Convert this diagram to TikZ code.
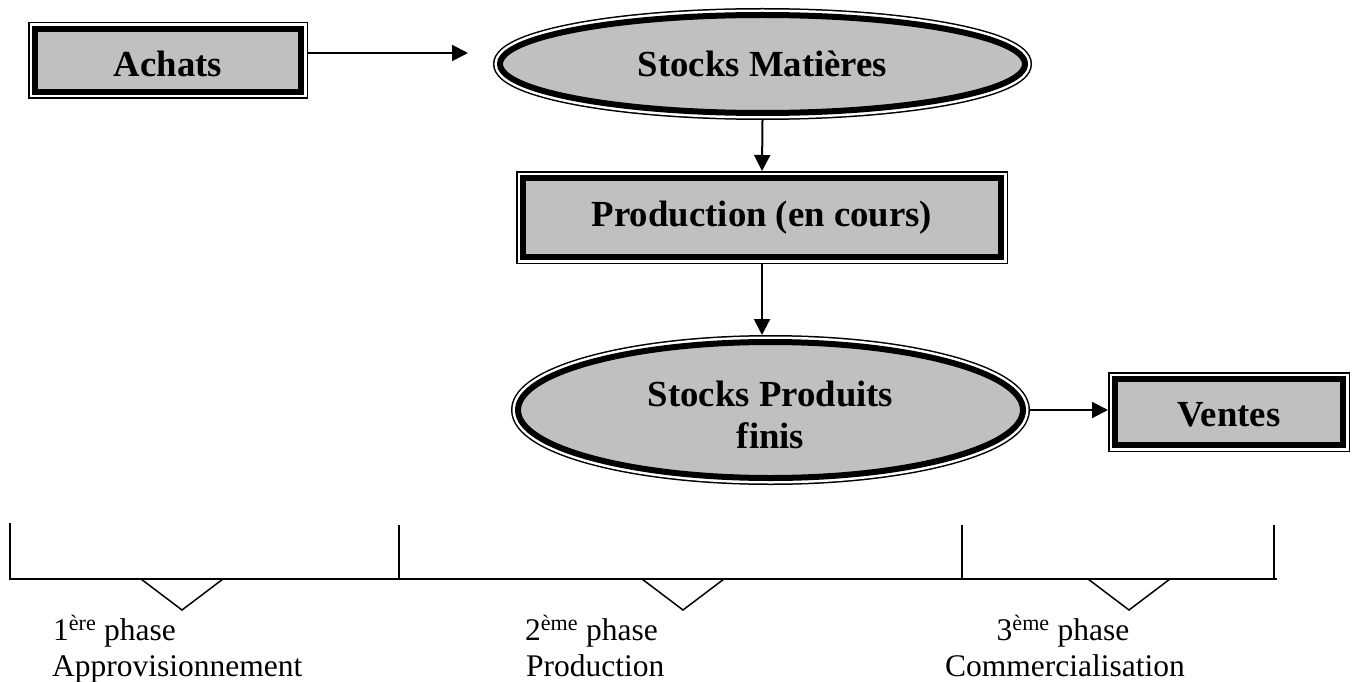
\documentclass[tikz,border=0pt]{standalone}
\usepackage{fontspec}
\setmainfont{Liberation Serif}
\usetikzlibrary{shapes.geometric,arrows.meta}
\definecolor{boxgray}{HTML}{C0C0C0}
\tikzset{
	flowbox/.style={draw=black, line width=6pt, fill=boxgray, outer sep=7pt, inner sep=0pt,
		preaction={draw=black, line width=14pt}, preaction={draw=white, line width=11pt},
		font=\fontsize{36.75}{42}\selectfont\bfseries, align=center},
	stockbox/.style={flowbox, ellipse},
	flow/.style={line width=2pt, -{Triangle[length=16pt,width=16pt]}},
	phase/.style={font=\fontsize{31.5}{36}\selectfont, inner sep=0pt}
}
\begin{document}
\begin{tikzpicture}[x=1pt, y=-1pt]
	\useasboundingbox (0,0) rectangle (1354,682);
	% boxes
	\node[flowbox, minimum width=266pt, minimum height=63pt, text height=33pt] (achats) at (168,60.5) {Achats};
	\node[stockbox, minimum width=525pt, minimum height=98pt] (stockM) at (762.5,64) {Stocks Matières};
	\node[flowbox, minimum width=478pt, minimum height=79pt] (prod) at (762,217.5) {Production (en cours)};
	\node[stockbox, minimum width=505pt, minimum height=136pt, text height=78pt] (stockP) at (770.5,410) {Stocks Produits\\finis};
	\node[flowbox, minimum width=228pt, minimum height=66pt, text height=30pt] (ventes) at (1229,412) {Ventes};
	% arrows
	\coordinate (achatsTip) at (468,53);
	\draw[flow] (achatsTip -| achats.east) -- (achatsTip);
	\draw[flow] (stockM.south) -- (prod.north);
	\draw[flow] (prod.south) -- (prod.south |- stockP.north);
	\draw[flow] (stockP.east) -- (stockP.east -| ventes.west);
	% phases
	\draw[line width=2pt] (10,523) -- (10,579) -- (1277,579);
	\foreach \x in {399,962,1274}
		\draw[line width=2pt] (\x,525) -- (\x,579);
	\foreach \c in {182,683,1129}
		\draw[line width=1.5pt] (\c-41,579) -- (\c,610) -- (\c+41,579);
	\node[phase, anchor=base west] (ph1) at (53,640) {1\textsuperscript{ère} phase};
	\node[phase, anchor=base west] (ph1b) at (52,676) {Approvisionnement};
	\node[phase, anchor=base west] (ph2) at (525,640) {2\textsuperscript{ème} phase};
	\node[phase, anchor=base west] (ph2b) at (526,676) {Production};
	\node[phase, anchor=base] (ph3) at (1063,640) {3\textsuperscript{ème} phase};
	\node[phase, anchor=base] (ph3b) at (1065,676) {Commercialisation};
\end{tikzpicture}
\end{document}
